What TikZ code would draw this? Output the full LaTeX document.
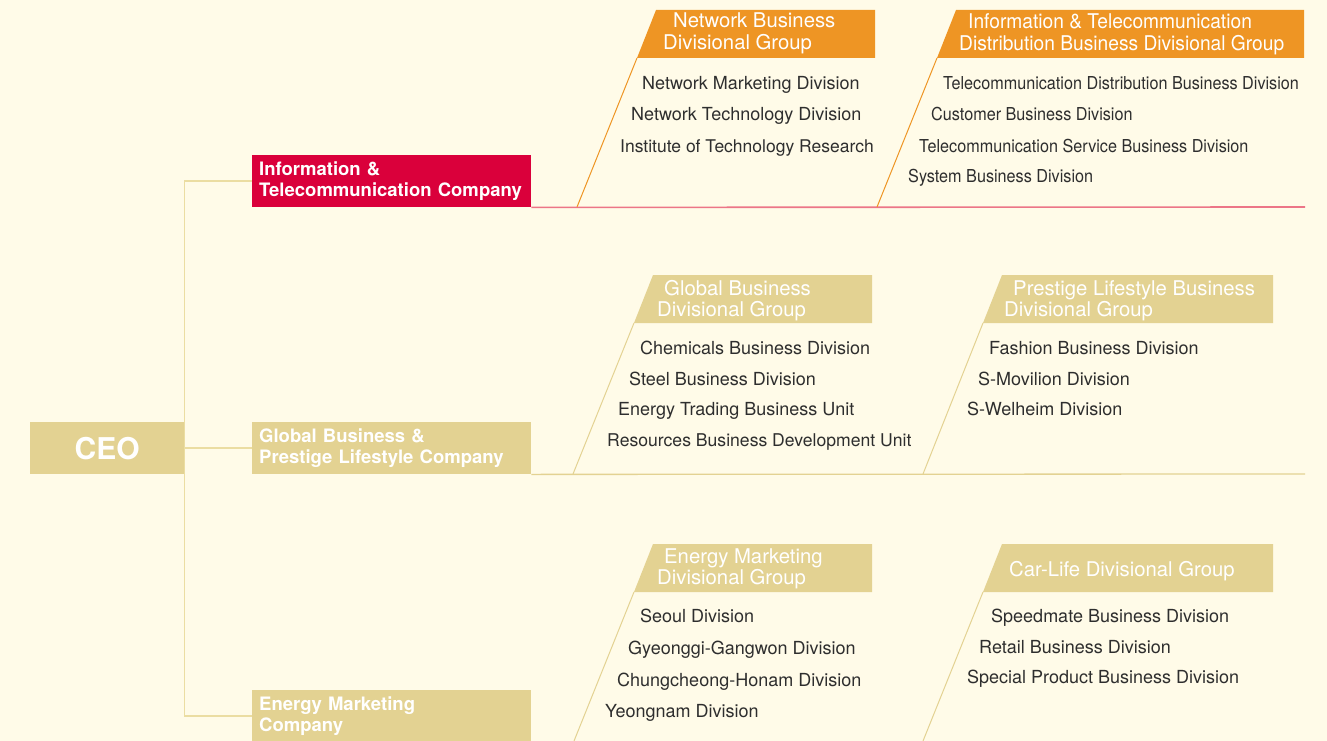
\documentclass[tikz,border=0pt]{standalone}
\usepackage{fontspec}
\setmainfont{TeX Gyre Heros}
\usetikzlibrary{positioning}
\hyphenpenalty=10000
\definecolor{paper}{HTML}{FFFBE8}
\definecolor{tangerine}{HTML}{EE9524}
\definecolor{crimson}{HTML}{DA003B}
\definecolor{sand}{HTML}{E3D292}
\definecolor{sandline}{HTML}{EBDDA2}
\definecolor{rose}{HTML}{EC7587}
\definecolor{ink}{HTML}{2E2E2E}
\tikzset{ceo/.style={fill=sand,text=white,inner sep=0pt,
    minimum width=154pt,minimum height=52pt,
    font=\bfseries\fontsize{30}{32}\selectfont},
  company/.style={fill=#1,text=white,anchor=north west,align=left,
    text width=265pt,inner xsep=7pt,inner ysep=0pt,minimum height=52pt,
    font=\bfseries\fontsize{18.5}{21}\selectfont},
  grouptext/.style={text=white,anchor=base west,inner sep=0pt,
    font=\fontsize{20.3}{22}\selectfont},
  unit/.style={text=ink,anchor=base west,inner sep=0pt,
    font=\fontsize{18}{20}\selectfont},
  narrow/.style={font=\fontsize{17.8}{20}\selectfont\addfontfeature{FakeStretch=0.91}},
  link/.style={-,draw=sandline,line width=1.5pt},
  redline/.style={-,draw=rose,line width=1.6pt},
  goldline/.style={-,draw=sand,line width=1.3pt},
  orangeslant/.style={-,draw=tangerine,line width=1pt},
  goldslant/.style={-,draw=sand,line width=1pt}}
\begin{document}
\begin{tikzpicture}[x=1pt,y=-1pt]
  \fill[paper] (0,0) rectangle (1327,741);
  \useasboundingbox (0,0) rectangle (1327,741);
  % ceo and companies
  \node[ceo,anchor=north west] (ceo) at (30,422) {CEO};
  \node[company=crimson] (itc) at (252,155) {Information \&\\Telecommunication Company};
  \node[company=sand] (gpl) at (252,422) {Global Business \&\\Prestige Lifestyle Company};
  \node[company=sand] (emc) at (252,690) {Energy Marketing\\Company};
  \draw[link] (ceo.east) |- (itc.west);
  \draw[link] (ceo.east) -- (gpl.west);
  \draw[link] (ceo.east) |- (emc.west);
  \coordinate (itcend) at (1305,207);
  \coordinate (gplend) at (1305,474);
  \draw[redline] (itc.south east) -- (itcend);
  \draw[goldline] (gpl.south east) -- (gplend);

  % network business divisional group
  \coordinate (nbg) at (637,58);
  \coordinate (nbgfoot) at (577,207);
  \fill[tangerine] (nbg) -- ++(19,-48) -- (875,10) |- (nbg);
  \draw[orangeslant] (nbgfoot) -- (nbg);
  \node[grouptext] (nbg1) at (673,28) {Network Business};
  \node[grouptext] (nbg2) at (663,50) {Divisional Group};
  \node[unit] (nmd) at (642,90) {Network Marketing Division};
  \node[unit] (ntd) at (631,121) {Network Technology Division};
  \node[unit,font=\fontsize{17.5}{20}\selectfont] (itr) at (620,152) {Institute of Technology Research};

  % information & telecommunication distribution business divisional group
  \coordinate (itd) at (937,58);
  \coordinate (itdfoot) at (877,207);
  \fill[tangerine] (itd) -- ++(19,-48) -- (1304,10) |- (itd);
  \draw[orangeslant] (itdfoot) -- (itd);
  \node[grouptext,font=\fontsize{20.3}{22}\selectfont\addfontfeature{FakeStretch=0.945}] (itd1) at (968,29) {Information \& Telecommunication};
  \node[grouptext,font=\fontsize{20.3}{22}\selectfont\addfontfeature{FakeStretch=0.945}] (itd2) at (959,51) {Distribution Business Divisional Group};
  \node[unit,narrow] (tdb) at (943,90) {Telecommunication Distribution Business Division};
  \node[unit,narrow] (cbd) at (931,121) {Customer Business Division};
  \node[unit,narrow] (tsb) at (919,152) {Telecommunication Service Business Division};
  \node[unit,narrow] (sbd) at (908,182) {System Business Division};

  % global business divisional group
  \coordinate (gbg) at (634,323);
  \coordinate (gbgfoot) at (573,474);
  \fill[sand] (gbg) -- ++(19,-48) -- (872,275) |- (gbg);
  \draw[goldslant] (gbgfoot) -- (gbg);
  \node[grouptext] (gbg1) at (664,295) {Global Business};
  \node[grouptext] (gbg2) at (657,316) {Divisional Group};
  \node[unit] (cbdv) at (640,354) {Chemicals Business Division};
  \node[unit] (sbdv) at (629,385) {Steel Business Division};
  \node[unit] (etu) at (618,415) {Energy Trading Business Unit};
  \node[unit,font=\fontsize{17.6}{20}\selectfont] (rbd) at (607,446) {Resources Business Development Unit};

  % prestige lifestyle business divisional group
  \coordinate (plb) at (983,323);
  \coordinate (plbfoot) at (923,474);
  \fill[sand] (plb) -- ++(19,-48) -- (1273,275) |- (plb);
  \draw[goldslant] (plbfoot) -- (plb);
  \node[grouptext] (plb1) at (1013,295) {Prestige Lifestyle Business};
  \node[grouptext] (plb2) at (1004,316) {Divisional Group};
  \node[unit] (fbd) at (989,354) {Fashion Business Division};
  \node[unit] (smd) at (978,385) {S-Movilion Division};
  \node[unit] (swd) at (967,415) {S-Welheim Division};

  % energy marketing divisional group
  \coordinate (emg) at (634,592);
  \coordinate (emgfoot) at (574,741);
  \fill[sand] (emg) -- ++(19,-48) -- (872,544) |- (emg);
  \draw[goldslant] (emgfoot) -- (emg);
  \node[grouptext] (emg1) at (664,563) {Energy Marketing};
  \node[grouptext] (emg2) at (657,584) {Divisional Group};
  \node[unit] (sed) at (640,622) {Seoul Division};
  \node[unit] (ggd) at (628,654) {Gyeonggi-Gangwon Division};
  \node[unit] (chd) at (617,686) {Chungcheong-Honam Division};
  \node[unit] (ynd) at (605,717) {Yeongnam Division};

  % car-life divisional group
  \coordinate (clg) at (983,592);
  \coordinate (clgfoot) at (923,741);
  \fill[sand] (clg) -- ++(19,-48) -- (1273,544) |- (clg);
  \draw[goldslant] (clgfoot) -- (clg);
  \node[grouptext] (clg1) at (1009,576) {Car-Life Divisional Group};
  \node[unit] (sbdm) at (991,622) {Speedmate Business Division};
  \node[unit] (rbdv) at (979,653) {Retail Business Division};
  \node[unit] (spb) at (967,683) {Special Product Business Division};
\end{tikzpicture}
\end{document}
